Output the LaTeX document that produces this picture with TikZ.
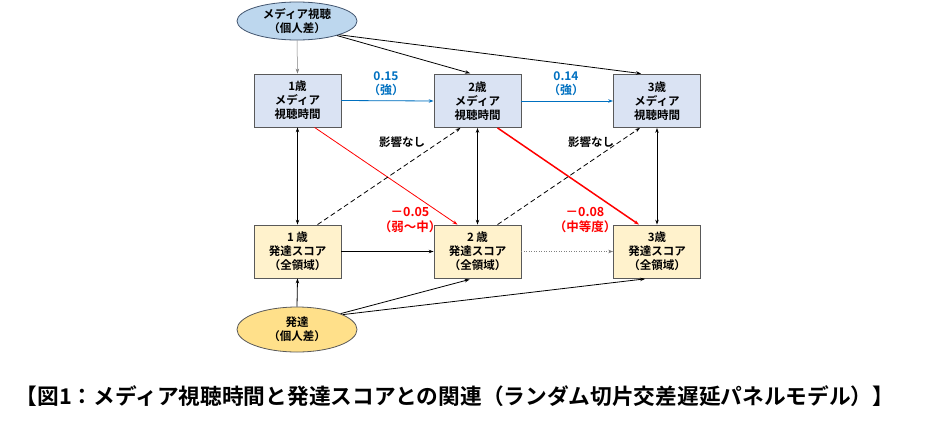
\documentclass[tikz,border=0pt]{standalone}
\usepackage{fontspec}
\setmainfont{Noto Sans CJK JP}[BoldFont={Noto Sans CJK JP Bold}]
\usetikzlibrary{arrows.meta,calc,shapes.geometric}
\definecolor{mfill}{HTML}{DAE3F3}
\definecolor{efill}{HTML}{BDD7EE}
\definecolor{dfill}{HTML}{FFF2CC}
\definecolor{e2fill}{HTML}{FFE08A}
\definecolor{bord}{HTML}{595959}
\definecolor{eborder}{HTML}{41546E}
\definecolor{bl}{HTML}{0070C0}
\definecolor{rd}{HTML}{FF0000}
\tikzset{
  mbox/.style={draw=bord, fill=mfill, line width=0.8pt, minimum width=87pt, minimum height=53pt, inner sep=0pt, align=center, font=\fontsize{11.5}{14}\selectfont\bfseries},
  dbox/.style={mbox, fill=dfill},
  ell/.style={ellipse, draw=eborder, line width=0.8pt, minimum width=120pt, inner sep=0pt, align=center, font=\fontsize{11.5}{14}\selectfont\bfseries},
  arr/.style={-{Stealth[length=5pt,width=3.5pt]}, line width=0.8pt},
  darr/.style={{Stealth[length=5pt,width=3.5pt]}-{Stealth[length=5pt,width=3.5pt]}, line width=0.8pt},
  lbl/.style={font=\fontsize{11.5}{14}\selectfont\bfseries, align=center, inner sep=0pt},
}
\begin{document}
\begin{tikzpicture}[x=1pt,y=-1pt]
\useasboundingbox (0,0) rectangle (939,426);
\node[ell, fill=efill, minimum height=38pt] (e1) at (297,21) {メディア視聴\\（個人差）};
\node[ell, fill=e2fill, draw=bord, minimum height=45pt] (e2) at (297,329.5) {発達\\（個人差）};

\node[mbox] (m1) at (297.5,100.5) {1歳\\メディア\\視聴時間};
\node[mbox] (m2) at (477.5,101) {2歳\\メディア\\視聴時間};
\node[mbox] (m3) at (657,101) {3歳\\メディア\\視聴時間};

\node[dbox] (d1) at (297.5,251.5) {1 歳\\発達スコア\\（全領域）};
\node[dbox] (d2) at (477.5,251.5) {2 歳\\発達スコア\\（全領域）};
\node[dbox] (d3) at (657,251.5) {3歳\\発達スコア\\（全領域）};

% top ellipse arrows
\draw[arr, line width=0.5pt, draw=gray] (e1.south) -- (m1.north);
\draw[arr, shorten >=3pt] (e1.-20) -- ($(m2.north)+(-4.5,0)$);
\draw[arr, shorten >=4pt] (e1.-18) -- ($(m3.north)+(-12,0)$);

% blue stability paths
\draw[arr, draw=bl, fill=bl] (m1.east) -- (m2.west);
\draw[arr, draw=bl, fill=bl] (m2.east) -- (m3.west);
\node[lbl, text=bl, font=\fontsize{12}{14}\selectfont\bfseries] (l1) at (386,84) {0.15\\（強）};
\node[lbl, text=bl, font=\fontsize{12}{14}\selectfont\bfseries] (l2) at (566,84) {0.14\\（強）};

% vertical correlations
\draw[darr] (m1.south) -- (d1.north);
\draw[darr] (m2.south) -- (d2.north);
\draw[darr] (m3.south) -- (d3.north);

% cross-lagged
\draw[arr, draw=rd, line width=0.8pt] ($(m1.south)+(17,0)$) -- ($(d2.north)+(-20,0)$);
\draw[arr, draw=rd, line width=1.5pt] ($(m2.south)+(20,0)$) -- ($(d3.north)+(-18,0)$);
\draw[arr, dashed, dash pattern=on 5pt off 3pt] ($(d1.north)+(20,0)$) -- ($(m2.south)+(-17,0)$);
\draw[arr, dashed, dash pattern=on 5pt off 3pt] ($(d2.north)+(20,0)$) -- ($(m3.south)+(-17,0)$);

\node[lbl] (n1) at (402,142) {影響なし};
\node[lbl] (n2) at (591,142) {影響なし};
\node[lbl, text=rd, font=\fontsize{12.5}{15}\selectfont\bfseries] (r1) at (410,220) {－0.05\\（弱～中）};
\node[lbl, text=rd, font=\fontsize{12.5}{15}\selectfont\bfseries] (r2) at (585,220) {－0.08\\（中等度）};

% development stability
\draw[arr] (d1.east) -- (d2.west);
\draw[arr, line width=0.5pt, draw=gray, dotted] (d2.east) -- (d3.west);

% bottom ellipse
\draw[arr] (e2.north) -- (d1.south);
\draw[arr, shorten >=4pt] (e2.20) -- ($(d2.south)+(-4,0)$);
\draw[arr, shorten >=4pt] (e2.18) -- ($(d3.south)+(-8,0)$);

\node[font=\fontsize{21.7}{24}\selectfont\bfseries, inner sep=0pt] (cap) at (455,396) {【図1：メディア視聴時間と発達スコアとの関連（ランダム切片交差遅延パネルモデル）】};
\end{tikzpicture}
\end{document}
